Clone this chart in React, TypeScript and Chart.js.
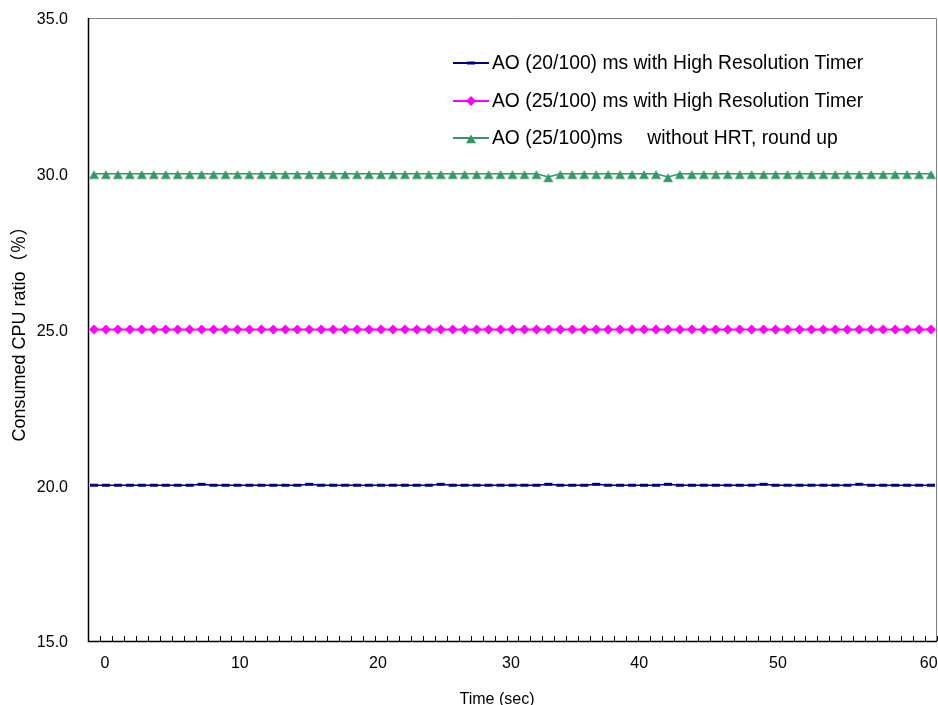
import React, { useEffect, useRef } from "react";
import { Chart, registerables } from "chart.js";

Chart.register(...registerables);

// ---- data ----
const sampleIndex = [
  0, 1, 2, 3, 4, 5, 6, 7, 8, 9,
  10, 11, 12, 13, 14, 15, 16, 17, 18, 19,
  20, 21, 22, 23, 24, 25, 26, 27, 28, 29,
  30, 31, 32, 33, 34, 35, 36, 37, 38, 39,
  40, 41, 42, 43, 44, 45, 46, 47, 48, 49,
  50, 51, 52, 53, 54, 55, 56, 57, 58, 59,
  60, 61, 62, 63, 64, 65, 66, 67, 68, 69,
  70,
];

const xTickPositions = [0.92, 12.2, 23.75, 34.87, 45.6, 57.2, 69.8];
const xTickLabels = ["0", "10", "20", "30", "40", "50", "60"];
const yTickValues = [15, 20, 25, 30, 35];

const seriesLabels = [
  "AO (20/100) ms with High Resolution Timer",
  "AO (25/100) ms with High Resolution Timer",
  "AO (25/100)ms\u3000 without HRT, round up",
];
const xTitle = "Time (sec)";
const yTitle = "Consumed CPU ratio\uFF08\uFF05\uFF09";

const hrt20 = [
  20.0, 20.0, 20.0, 20.0, 20.0, 20.0, 20.0, 20.0, 20.0, 20.03,
  20.0, 20.0, 20.0, 20.0, 20.0, 20.0, 20.0, 20.0, 20.03, 20.0,
  20.0, 20.0, 20.0, 20.0, 20.0, 20.0, 20.0, 20.0, 20.0, 20.03,
  20.0, 20.0, 20.0, 20.0, 20.0, 20.0, 20.0, 20.0, 20.03, 20.0,
  20.0, 20.0, 20.03, 20.0, 20.0, 20.0, 20.0, 20.0, 20.03, 20.0,
  20.0, 20.0, 20.0, 20.0, 20.0, 20.0, 20.03, 20.0, 20.0, 20.0,
  20.0, 20.0, 20.0, 20.0, 20.03, 20.0, 20.0, 20.0, 20.0, 20.0,
  20.0,
];

const hrt25 = [
  25.0, 25.0, 25.0, 25.0, 25.0, 25.0, 25.0, 25.0, 25.0, 25.0,
  25.0, 25.0, 25.0, 25.0, 25.0, 25.0, 25.0, 25.0, 25.0, 25.0,
  25.0, 25.0, 25.0, 25.0, 25.0, 25.0, 25.0, 25.0, 25.0, 25.0,
  25.0, 25.0, 25.0, 25.0, 25.0, 25.0, 25.0, 25.0, 25.0, 25.0,
  25.0, 25.0, 25.0, 25.0, 25.0, 25.0, 25.0, 25.0, 25.0, 25.0,
  25.0, 25.0, 25.0, 25.0, 25.0, 25.0, 25.0, 25.0, 25.0, 25.0,
  25.0, 25.0, 25.0, 25.0, 25.0, 25.0, 25.0, 25.0, 25.0, 25.0,
  25.0,
];

const noHrt25 = [
  30.0, 30.0, 30.0, 30.0, 30.0, 30.0, 30.0, 30.0, 30.0, 30.0,
  30.0, 30.0, 30.0, 30.0, 30.0, 30.0, 30.0, 30.0, 30.0, 30.0,
  30.0, 30.0, 30.0, 30.0, 30.0, 30.0, 30.0, 30.0, 30.0, 30.0,
  30.0, 30.0, 30.0, 30.0, 30.0, 30.0, 30.0, 30.0, 29.9, 30.0,
  30.0, 30.0, 30.0, 30.0, 30.0, 30.0, 30.0, 30.0, 29.9, 30.0,
  30.0, 30.0, 30.0, 30.0, 30.0, 30.0, 30.0, 30.0, 30.0, 30.0,
  30.0, 30.0, 30.0, 30.0, 30.0, 30.0, 30.0, 30.0, 30.0, 30.0,
  30.0,
];

const FONT = "'Liberation Sans', Arial, 'Noto Sans CJK JP', sans-serif";
const NAVY = "#000080";
const MAGENTA = "#FF00FF";
const GREEN = "#339966";

function makeTriangle(color: string): HTMLCanvasElement {
  const c = document.createElement("canvas");
  c.width = 12;
  c.height = 16;
  const g = c.getContext("2d")!;
  g.fillStyle = color;
  g.beginPath();
  g.moveTo(6, 4.5);
  g.lineTo(11, 13.2);
  g.lineTo(1, 13.2);
  g.closePath();
  g.fill();
  return c;
}

function drawMarker(ctx: CanvasRenderingContext2D, kind: string, x: number, y: number, color: string, tri: HTMLCanvasElement) {
  ctx.save();
  ctx.fillStyle = color;
  ctx.strokeStyle = color;
  if (kind === "line") {
    ctx.lineWidth = 3;
    ctx.beginPath();
    ctx.moveTo(x - 4, y);
    ctx.lineTo(x + 4, y);
    ctx.stroke();
  } else if (kind === "diamond") {
    ctx.beginPath();
    ctx.moveTo(x, y - 5);
    ctx.lineTo(x + 5, y);
    ctx.lineTo(x, y + 5);
    ctx.lineTo(x - 5, y);
    ctx.closePath();
    ctx.fill();
  } else {
    ctx.drawImage(tri, x - tri.width / 2, y - tri.height / 2);
  }
  ctx.restore();
}

const zeroPad = (s: any) => {
  s.paddingTop = 0;
  s.paddingBottom = 0;
  s.paddingLeft = 0;
  s.paddingRight = 0;
};

export default function App() {
  const ref = useRef<HTMLCanvasElement | null>(null);

  useEffect(() => {
    document.body.style.margin = "0";
    const canvas = ref.current;
    if (!canvas) return;
    const tri = makeTriangle(GREEN);

    const framePlugin = {
      id: "frame",
      beforeDatasetsDraw(chart: any) {
        const { ctx, chartArea } = chart;
        const { left, right, top, bottom } = chartArea;
        ctx.save();
        ctx.strokeStyle = "#808080";
        ctx.lineWidth = 1;
        ctx.beginPath();
        ctx.moveTo(left, top + 0.5);
        ctx.lineTo(right - 0.5, top + 0.5);
        ctx.lineTo(right - 0.5, bottom);
        ctx.stroke();
        const xs = chart.scales.x;
        ctx.strokeStyle = "#000000";
        ctx.lineWidth = 1;
        ctx.beginPath();
        for (let k = 0; k <= sampleIndex.length; k++) {
          const px = Math.round(xs.getPixelForValue(k - 0.5)) + 0.5;
          ctx.moveTo(px, bottom - 5);
          ctx.lineTo(px, bottom);
        }
        ctx.stroke();
        ctx.lineWidth = 1.5;
        ctx.beginPath();
        ctx.moveTo(left + 0.5, top);
        ctx.lineTo(left + 0.5, bottom + 0.5);
        ctx.lineTo(right, bottom + 0.5);
        ctx.stroke();
        ctx.restore();
      },
    };

    const legendPlugin = {
      id: "excelLegend",
      afterDraw(chart: any) {
        const { ctx } = chart;
        const rows = [63, 101, 138];
        const kinds = ["line", "diamond", "triangle"];
        ctx.save();
        chart.data.datasets.forEach((ds: any, i: number) => {
          const y = rows[i];
          ctx.strokeStyle = ds.borderColor;
          ctx.lineWidth = 2;
          ctx.beginPath();
          ctx.moveTo(453, y);
          ctx.lineTo(489, y);
          ctx.stroke();
          drawMarker(ctx, kinds[i], 471, y, ds.borderColor, tri);
          ctx.fillStyle = "#000000";
          ctx.font = `19.3px ${FONT}`;
          ctx.textBaseline = "middle";
          ctx.textAlign = "left";
          ctx.fillText(ds.label, 492, y + 1);
        });
        ctx.fillStyle = "#000000";
        ctx.font = `16px ${FONT}`;
        ctx.textAlign = "center";
        ctx.textBaseline = "alphabetic";
        ctx.fillText(xTitle, 497, 704);
        ctx.restore();
      },
    };

    const toXY = (arr: number[]) => arr.map((y, i) => ({ x: sampleIndex[i], y }));

    const chart = new Chart(canvas, {
      type: "line",
      data: {
        datasets: [
          {
            label: seriesLabels[0],
            data: toXY(hrt20),
            borderColor: NAVY,
            backgroundColor: NAVY,
            borderWidth: 1.5,
            pointStyle: "line",
            pointRadius: 4,
            pointBorderWidth: 3,
            pointBorderColor: NAVY,
            tension: 0,
          },
          {
            label: seriesLabels[1],
            data: toXY(hrt25),
            borderColor: MAGENTA,
            backgroundColor: MAGENTA,
            borderWidth: 2,
            pointStyle: "rectRot",
            pointRadius: 5,
            pointBorderWidth: 0,
            pointBackgroundColor: MAGENTA,
            tension: 0,
          },
          {
            label: seriesLabels[2],
            data: toXY(noHrt25),
            borderColor: GREEN,
            backgroundColor: GREEN,
            borderWidth: 1.5,
            pointStyle: tri,
            pointRadius: 6,
            tension: 0,
          },
        ],
      },
      options: {
        responsive: false,
        animation: false,
        devicePixelRatio: 1,
        layout: { autoPadding: false, padding: { top: 18, right: 1, left: 0, bottom: 0 } },
        plugins: {
          legend: { display: false },
          tooltip: { enabled: false },
        },
        scales: {
          x: {
            type: "linear",
            min: -0.5,
            max: 70.5,
            position: "bottom",
            grid: { display: false, drawTicks: false },
            border: { display: false },
            afterBuildTicks: (s: any) => {
              s.ticks = xTickPositions.map((v) => ({ value: v }));
            },
            afterFit: (s: any) => {
              s.height = 64;
              zeroPad(s);
            },
            ticks: {
              autoSkip: false,
              maxRotation: 0,
              padding: 13,
              color: "#000000",
              font: { family: FONT, size: 16 },
              callback: (_v: any, i: number) => xTickLabels[i],
            },
            title: { display: false },
          },
          y: {
            type: "linear",
            min: 15,
            max: 35,
            grid: { display: false, drawTicks: false },
            border: { display: false },
            afterBuildTicks: (s: any) => {
              s.ticks = yTickValues.map((v) => ({ value: v }));
            },
            afterFit: (s: any) => {
              s.width = 88;
              zeroPad(s);
            },
            ticks: {
              padding: 20,
              labelOffset: 2,
              color: "#000000",
              font: { family: FONT, size: 16 },
              callback: (v: any) => Number(v).toFixed(1),
            },
            title: {
              display: true,
              text: yTitle,
              color: "#000000",
              font: { family: FONT, size: 18, lineHeight: 1.2 },
              padding: { top: 9, bottom: 0 },
            },
          },
        },
      },
      plugins: [framePlugin, legendPlugin],
    } as any);

    return () => chart.destroy();
  }, []);

  return (
    <div style={{ width: 938, height: 705 }}>
      <canvas ref={ref} width={938} height={705} style={{ display: "block" }} />
    </div>
  );
}
